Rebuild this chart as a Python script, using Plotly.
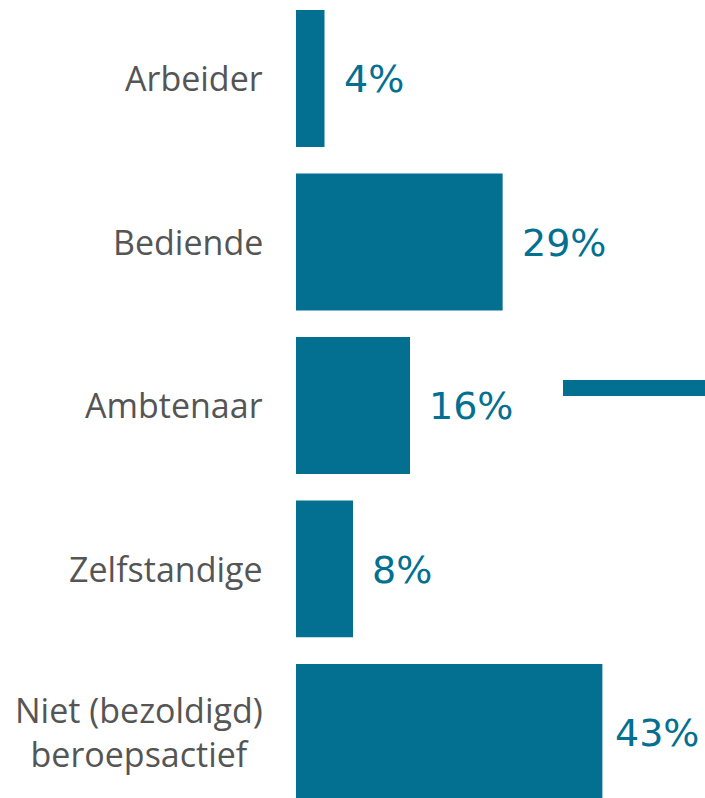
import plotly.graph_objects as go

categories = ["Arbeider", "Bediende", "Ambtenaar", "Zelfstandige", "Niet (bezoldigd)<br>beroepsactief"]
values = [4, 29, 16, 8, 43]
labels = ["4%", "29%", "16%", "8%", "43%"]

BAR = "#037092"
GREY = "#555555"

W, H = 705, 798
L = 296
XMAX = 57.4
VAL_SIZE = 38
px_per_unit = (W - L) / XMAX

fig = go.Figure(go.Bar(
    x=values, y=categories, orientation="h",
    marker=dict(color=BAR, line=dict(width=0)),
    width=0.837, hoverinfo="skip",
))

for c, v, t in zip(categories, values, labels):
    # keep the value label inside the chart: shrink the gap if it would overflow
    est_w = 0.74 * VAL_SIZE * len(t)
    end_px = L + v * px_per_unit
    shift = min(17, (W - 8) - est_w - end_px)
    fig.add_annotation(x=v, y=c, text=t, showarrow=False, xanchor="left",
                       xshift=shift, yshift=-1,
                       font=dict(family="DejaVu Sans", size=VAL_SIZE, color=BAR))
    fig.add_annotation(x=0, xref="paper", y=c, text=c, showarrow=False,
                       xanchor="right", align="center", xshift=-31, yshift=0,
                       font=dict(family="Open Sans", size=34, color=GREY))

fig.add_shape(type="rect", xref="paper", yref="paper",
              x0=(563 - L) / (W - L), x1=1.0,
              y0=1 - 396 / H, y1=1 - 380 / H,
              fillcolor=BAR, line=dict(width=0))

fig.update_layout(
    width=W, height=H,
    margin=dict(l=L, r=0, t=0, b=0, pad=0),
    paper_bgcolor="white", plot_bgcolor="white",
    showlegend=False,
    xaxis=dict(range=[0, XMAX], visible=False),
    yaxis=dict(range=[4.401, -0.480], showgrid=False, zeroline=False, showline=False,
               ticks="", showticklabels=False),
)

fig.write_html("out.html", config={"displayModeBar": False},
               post_script="document.body.style.margin='0';document.body.style.overflow='hidden';")
